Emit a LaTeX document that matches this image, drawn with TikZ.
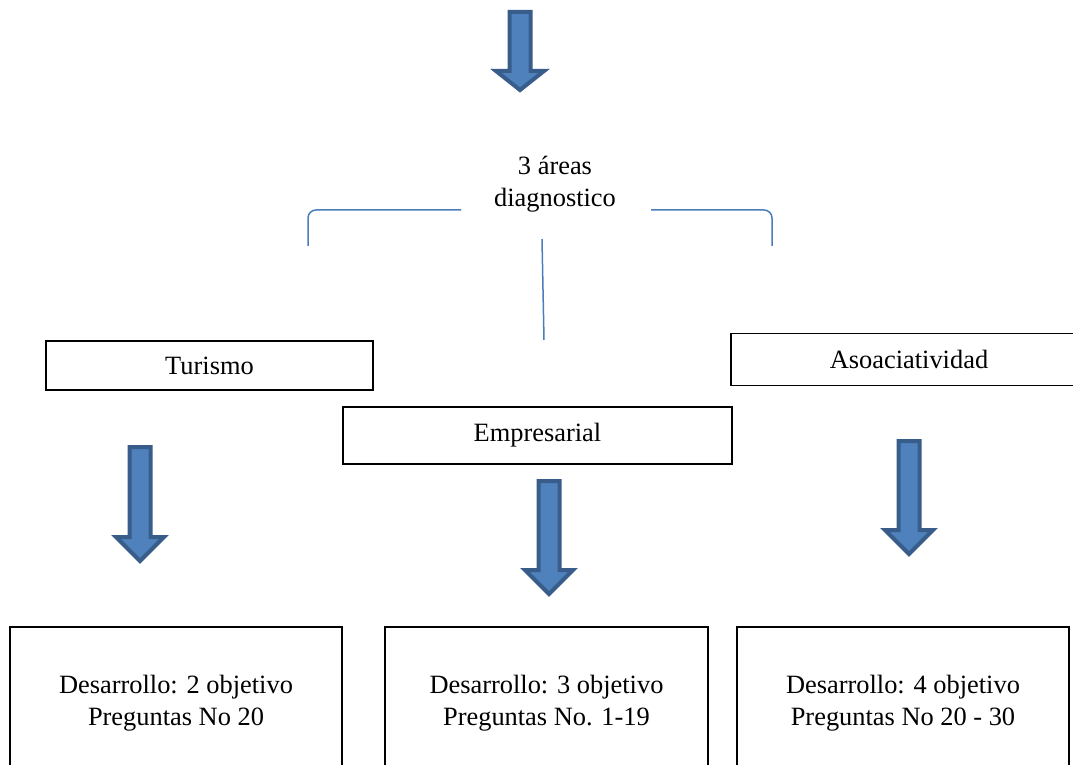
\documentclass[tikz,border=0pt]{standalone}
\usepackage{fontspec}
\setmainfont{Liberation Serif}
\usetikzlibrary{positioning}

\definecolor{arrowfill}{HTML}{4F81BD}
\definecolor{arrowline}{HTML}{385D8A}
\definecolor{bracketblue}{HTML}{4A7EBB}

\tikzset{
  areabox/.style={draw=black,line width=0.7pt,fill=white,inner sep=0pt,
    font=\fontsize{13.2}{16}\selectfont,align=center},
  blockarrow/.style={draw=arrowline,fill=arrowfill,line width=2pt,line join=miter},
  bracketline/.style={draw=bracketblue,line width=0.75pt}
}

\begin{document}
\begin{tikzpicture}[x=0.5pt,y=-0.5pt]
    \clip (0,0) rectangle (1073,765);
    \fill[white] (0,0) rectangle (1073,765);
    % block arrows: centre x / shaft top / head top / tip
    \foreach \ax/\at/\ah/\ab in {520/12/71/90, 140/447/537/561, 549/481/570/594, 909/441/530/554}{
      \draw[blockarrow] (\ax-10.5,\at) -- (\ax+10.5,\at) -- (\ax+10.5,\ah) -- (\ax+24,\ah)
        -- (\ax,\ab) -- (\ax-24,\ah) -- (\ax-10.5,\ah) -- cycle;
    }
    \node[font=\fontsize{13.2}{16}\selectfont,align=center] (areas) at (555,184)
      {3 áreas\\diagnostico};
    \coordinate (lefttop) at (461,210);
    \coordinate (leftend) at (308,246);
    \coordinate (righttop) at (651,210);
    \coordinate (rightend) at (772,246);
    \coordinate (midtop) at (542,239);
    \coordinate (midend) at (544,340);
    \draw[bracketline,rounded corners=4pt] (lefttop) -- (leftend |- lefttop) -- (leftend);
    \draw[bracketline,rounded corners=4pt] (righttop) -- (rightend |- righttop) -- (rightend);
    \draw[bracketline] (midtop) -- (midend);
    \node[areabox,minimum width=163.5pt,minimum height=24.5pt] (turismo) at (209.5,365.5) {Turismo};
    \node[areabox,minimum width=178pt,minimum height=26pt] (asoc) at (909,359.5) {Asoaciatividad};
    \node[areabox,minimum width=194.5pt,minimum height=28.5pt] (empresarial) at (537.5,435.5) {Empresarial};
    \node[areabox,minimum width=166pt,minimum height=76pt] (obj2) at (176,703)
      {Desarrollo: 2 objetivo\\Preguntas No 20};
    \node[areabox,minimum width=161.5pt,minimum height=76pt] (obj3) at (546.5,703)
      {Desarrollo: 3 objetivo\\Preguntas No. 1-19};
    \node[areabox,minimum width=166pt,minimum height=76pt] (obj4) at (903,703)
      {Desarrollo: 4 objetivo\\Preguntas No 20 - 30};
  \end{tikzpicture}
\end{document}
